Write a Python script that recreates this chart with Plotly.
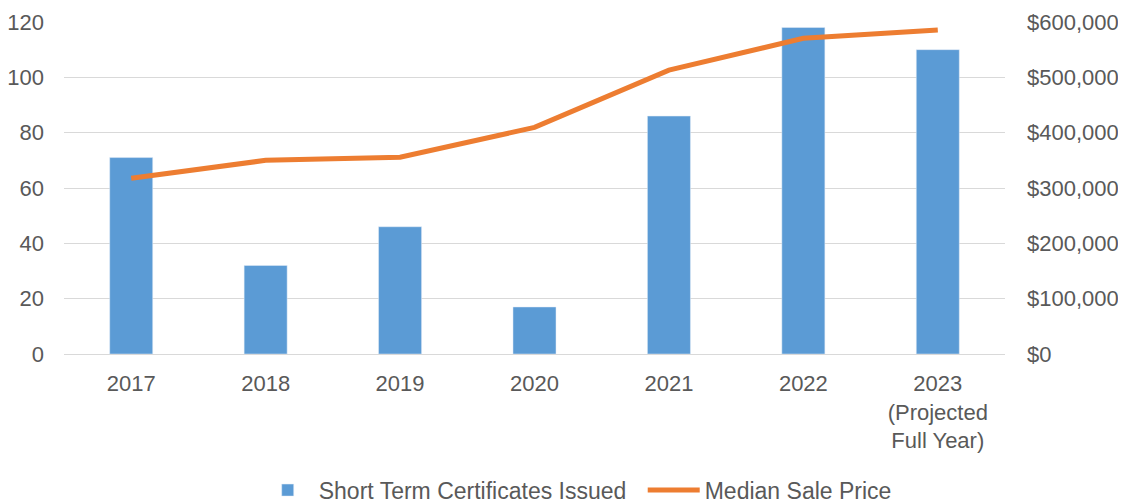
import plotly.graph_objects as go

years = ["2017", "2018", "2019", "2020", "2021", "2022", "2023<br>(Projected<br>Full Year)"]
certificates = [71, 32, 46, 17, 86, 118, 110]
median_price = [317500, 350000, 355500, 409500, 513000, 570500, 585500]

font = "Liberation Sans, Arial, sans-serif"
grey = "#595959"

fig = go.Figure()
fig.add_trace(go.Bar(x=years, y=certificates, name="Short Term Certificates Issued",
                     marker_color="#5B9BD5", width=0.32))
fig.add_trace(go.Scatter(x=years, y=median_price, name="Median Sale Price", yaxis="y2",
                         mode="lines", line=dict(color="#ED7D31", width=5)))

# page body adds an 8px offset, so margins are shifted accordingly
fig.update_layout(
    width=1126, height=504,
    margin=dict(l=56, r=129, t=14, b=158, autoexpand=False),
    plot_bgcolor="white", paper_bgcolor="white",
    font=dict(family=font, size=22, color=grey),
    showlegend=True,
    legend=dict(orientation="h", x=0.615, xanchor="center", y=-0.41, yanchor="middle",
                font=dict(size=23, color=grey), traceorder="normal", itemwidth=52,
                entrywidth=319),
    xaxis=dict(showgrid=False, showline=False, ticks="", ticklabelstandoff=14,
               automargin=False),
    yaxis=dict(range=[0, 120], dtick=20, showgrid=True, gridcolor="#D9D9D9", gridwidth=1.3,
               zeroline=True, zerolinecolor="#D9D9D9", zerolinewidth=1.3,
               ticks="", ticklabelstandoff=19, automargin=False),
    yaxis2=dict(range=[0, 600000], dtick=100000, overlaying="y", side="right",
                showgrid=False, zeroline=False, tickprefix="$", tickformat=",d",
                ticks="", ticklabelstandoff=21, automargin=False),
    bargap=0.68,
)

fig.write_html("out.html")
